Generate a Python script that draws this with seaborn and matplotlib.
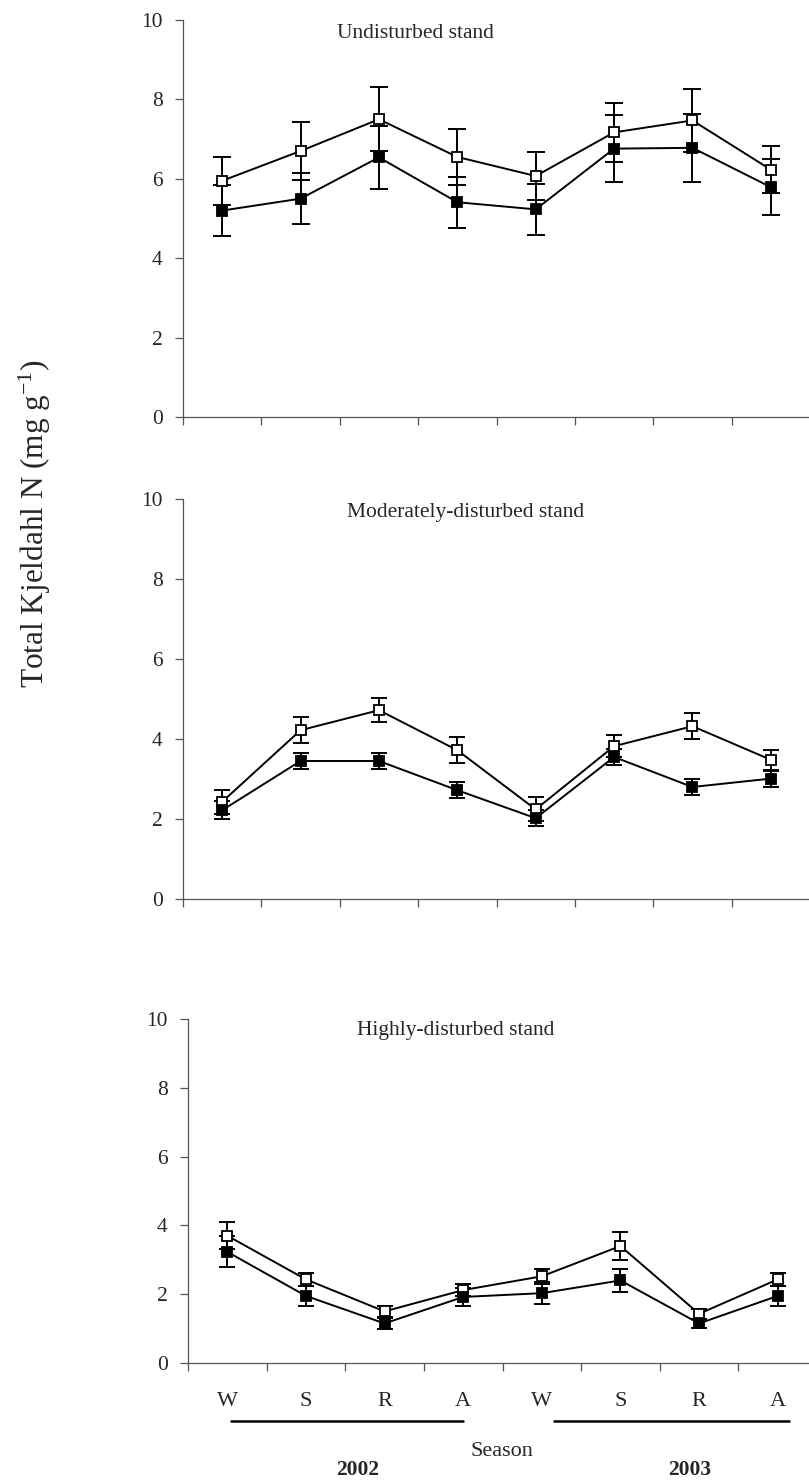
import numpy as np
import pandas as pd
import matplotlib
matplotlib.use("Agg")
import matplotlib.pyplot as plt
import matplotlib.transforms as mtransforms
import seaborn as sns

# Seasons (W = winter, S = summer, R = rainy, A = autumn) over two years
seasons = ["W", "S", "R", "A", "W", "S", "R", "A"]
years = ["2002", "2003"]
stands = ["Undisturbed stand", "Moderately-disturbed stand", "Highly-disturbed stand"]

# Total Kjeldahl N (mg g-1), means and error values per season
undisturbed_open = [5.95, 6.70, 7.50, 6.55, 6.07, 7.17, 7.47, 6.23]
undisturbed_open_err = [0.60, 0.72, 0.80, 0.70, 0.60, 0.75, 0.80, 0.60]
undisturbed_filled = [5.20, 5.50, 6.54, 5.41, 5.23, 6.76, 6.78, 5.79]
undisturbed_filled_err = [0.65, 0.65, 0.80, 0.64, 0.65, 0.85, 0.85, 0.70]

moderate_open = [2.43, 4.22, 4.72, 3.72, 2.24, 3.82, 4.32, 3.48]
moderate_open_err = [0.30, 0.32, 0.30, 0.33, 0.30, 0.27, 0.32, 0.25]
moderate_filled = [2.22, 3.45, 3.45, 2.72, 2.02, 3.55, 2.80, 3.01]
moderate_filled_err = [0.22, 0.20, 0.20, 0.20, 0.20, 0.20, 0.20, 0.20]

high_open = [3.70, 2.43, 1.50, 2.12, 2.52, 3.40, 1.43, 2.43]
high_open_err = [0.40, 0.20, 0.15, 0.18, 0.22, 0.40, 0.15, 0.20]
high_filled = [3.23, 1.95, 1.15, 1.92, 2.03, 2.40, 1.15, 1.95]
high_filled_err = [0.45, 0.30, 0.17, 0.27, 0.32, 0.33, 0.12, 0.30]

panels = [
    (undisturbed_open, undisturbed_open_err, undisturbed_filled, undisturbed_filled_err),
    (moderate_open, moderate_open_err, moderate_filled, moderate_filled_err),
    (high_open, high_open_err, high_filled, high_filled_err),
]

sns.set_style("ticks")
plt.rcParams["font.family"] = ["Liberation Serif", "DejaVu Serif"]
plt.rcParams["mathtext.fontset"] = "custom"
plt.rcParams["mathtext.rm"] = "Liberation Serif"
plt.rcParams["mathtext.it"] = "Liberation Serif:italic"

W, H = 809, 1484
fig = plt.figure(figsize=(W / 100, H / 100), dpi=100)


def axes_px(left, top, right, bottom):
    return fig.add_axes([left / W, 1 - bottom / H, (right - left) / W, (bottom - top) / H])


rects = [(183, 20, 810, 417), (183, 499, 810, 899), (188, 1019, 817, 1363)]
title_x = [0.245, 0.262, 0.268]
capsizes = [6.5, 5.5, 6.0]
spine_color = "#555555"

xpos = np.arange(len(seasons))
axes = []
for i, (rect, (o_val, o_err, f_val, f_err)) in enumerate(zip(rects, panels)):
    ax = axes_px(*rect)
    axes.append(ax)
    df = pd.DataFrame({
        "position": np.concatenate([xpos, xpos]),
        "value": o_val + f_val,
        "err": o_err + f_err,
        "series": ["open"] * len(xpos) + ["filled"] * len(xpos),
    })
    for series, face in [("open", "white"), ("filled", "black")]:
        sub = df[df["series"] == series]
        ax.errorbar(sub["position"], sub["value"], yerr=sub["err"], fmt="none",
                    ecolor="black", elinewidth=1.4, capsize=capsizes[i],
                    capthick=1.4, zorder=2)
        sns.lineplot(data=sub, x="position", y="value", ax=ax, color="black",
                     linewidth=1.4, marker="s", markersize=7.5,
                     markerfacecolor=face, markeredgecolor="black",
                     markeredgewidth=1.3, legend=False, zorder=3)

    ax.set_xlim(-0.5, 7.5)
    ax.set_ylim(0, 10)
    ax.set_yticks(np.arange(0, 11, 2))
    ax.set_yticklabels([str(v) for v in range(0, 11, 2)])
    ax.set_xticks(xpos)
    ax.set_xticks(np.arange(-0.5, 8.0, 1.0), minor=True)
    ax.set_xlabel("")
    ax.set_ylabel("")
    sns.despine(ax=ax)
    for side in ["left", "bottom"]:
        ax.spines[side].set_color(spine_color)
        ax.spines[side].set_linewidth(0.9)
    ax.tick_params(axis="y", direction="out", length=6, width=0.9,
                   color=spine_color, labelsize=15.5, pad=8.5)
    ax.tick_params(axis="x", which="minor", direction="out", length=6,
                   width=0.9, color=spine_color)
    ax.tick_params(axis="x", which="major", length=0, labelsize=16, pad=21)
    if i < 2:
        ax.set_xticklabels([])
    else:
        ax.set_xticklabels(seasons)
    ax.text(title_x[i], 0.967, stands[i], transform=ax.transAxes,
            ha="left", va="center", fontsize=15.5)

# Year underlines beneath the season labels
ax3 = axes[2]
blend = mtransforms.blended_transform_factory(ax3.transData, ax3.transAxes)
year_spans = [(0.05, 3.0), (4.15, 7.15)]
for x0, x1 in year_spans:
    ax3.plot([x0, x1], [-0.169, -0.169], color="black", linewidth=1.8,
             transform=blend, clip_on=False)

fig.text(502 / W, 1 - 1452 / H, "Season", ha="center", va="center", fontsize=16)
for yr, xc in zip(years, [358, 690]):
    fig.text(xc / W, 1 - 1470 / H, yr, ha="center", va="center",
             fontsize=15.5, fontweight="bold")

fig.text(35 / W, 1 - 524 / H, "Total Kjeldahl N (mg g$^{-1}$)", rotation=90,
         ha="center", va="center", fontsize=22.5)

fig.savefig("out.png", dpi=100)
